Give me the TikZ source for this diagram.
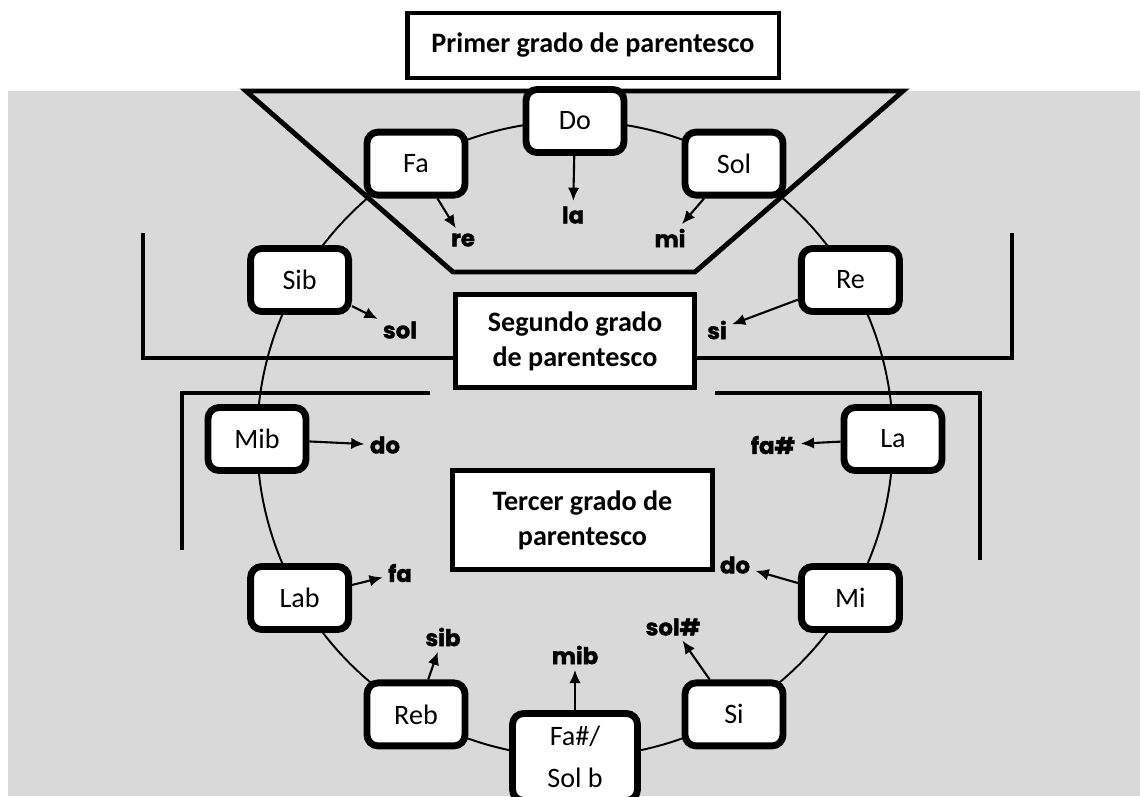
\documentclass[tikz,border=0pt]{standalone}
\usepackage{fontspec}
\setmainfont{Carlito}
\newfontfamily\notefont{Poppins}[BoldFeatures={FakeBold=1.6}]
\usepackage{tikz}
\usetikzlibrary{arrows.meta,positioning,calc,shadows}

\definecolor{panel}{HTML}{D9D9D9}

\tikzset{
  key/.style={draw, line width=3.9pt, rounded corners=0.22cm, fill=white,
    minimum width=1.96cm, minimum height=1.26cm, inner sep=0pt,
    font=\fontsize{16}{19}\selectfont,
    drop shadow={shadow xshift=0.8pt, shadow yshift=-1.2pt, opacity=0.25}},
  relkey/.style={font=\notefont\bfseries\fontsize{13}{15}\selectfont, inner sep=1pt},
  degree/.style={draw, line width=2.8pt, fill=white, align=center, inner sep=0pt,
    font=\bfseries\fontsize{16}{20}\selectfont},
  frame/.style={line width=2.8pt},
  toward/.style={-{Latex[length=7.5pt,width=6.5pt]}, line width=1.2pt, shorten >=2pt},
}

\begin{document}
\begin{tikzpicture}[x=0.02cm, y=-0.02cm]
\clip (0,0) rectangle (1140,796);

% Grey panel
\fill[panel] (8,91) rectangle (1140,796);

% Circle of fifths
\draw[line width=1.1pt] (575,439) circle[radius=6.36cm];

% First degree zone
\draw[frame, line join=miter] (246,91) -- (453,272) -- (695,272) -- (903,91) -- cycle;

% Second degree brackets
\draw[frame] (143,233) -- (143,358) -- (453,358);
\draw[frame] (697,358) -- (1012,358) -- (1012,233);

% Third degree brackets
\draw[frame] (430,393) -- (182,393) -- (182,550);
\draw[frame] (715,393) -- (980,393) -- (980,560);

% Degree boxes
\node[degree, minimum width=7.44cm, minimum height=1.3cm] (first) at (593,45.5) {Primer grado de parentesco};
\node[degree, minimum width=4.78cm, minimum height=1.86cm] (second) at (575,341) {Segundo grado\\de parentesco};
\node[degree, minimum width=5.2cm, minimum height=1.98cm] (third) at (582.5,520) {Tercer grado de\\parentesco};

% Keys around the circle
\begin{scope}[shift={(575,439)}]
\foreach \name/\a/\txt in {do/-90/Do, sol/-60/Sol, re/-30/Re, la/0/La, mi/30/Mi, si/60/Si,
    reb/120/Reb, lab/150/Lab, mib/180/Mib, sib/210/Sib, fa/240/Fa}
  \node[key] (\name) at (\a:318) {\txt};
\node[key, minimum width=2.5cm, minimum height=1.74cm, align=center,
  font=\fontsize{16}{24}\selectfont] (fas) at (90:318) {Fa\#/\\Sol b};
\end{scope}

% Relative keys
\node[relkey] (relFa) at (463,240) {re};
\node[relkey] (relDo) at (573,215) {la};
\node[relkey] (relSol) at (670,238) {mi};
\node[relkey] (relSib) at (400,330) {sol};
\node[relkey] (relRe) at (717,330) {si};
\node[relkey] (relMib) at (385,445) {do};
\node[relkey] (relLa) at (773,445) {fa\#};
\node[relkey] (relMi) at (735,565) {do};
\node[relkey] (relLab) at (400,573) {fa};
\node[relkey] (relReb) at (443,637) {sib};
\node[relkey] (relFas) at (575,655) {mib};
\node[relkey] (relSi) at (673,627) {sol\#};

\foreach \k/\r in {fa/relFa, do/relDo, sol/relSol, sib/relSib, re/relRe, mib/relMib,
    la/relLa, mi/relMi, lab/relLab, reb/relReb, fas/relFas, si/relSi}
  \draw[toward] (\k) -- (\r);
\end{tikzpicture}
\end{document}
